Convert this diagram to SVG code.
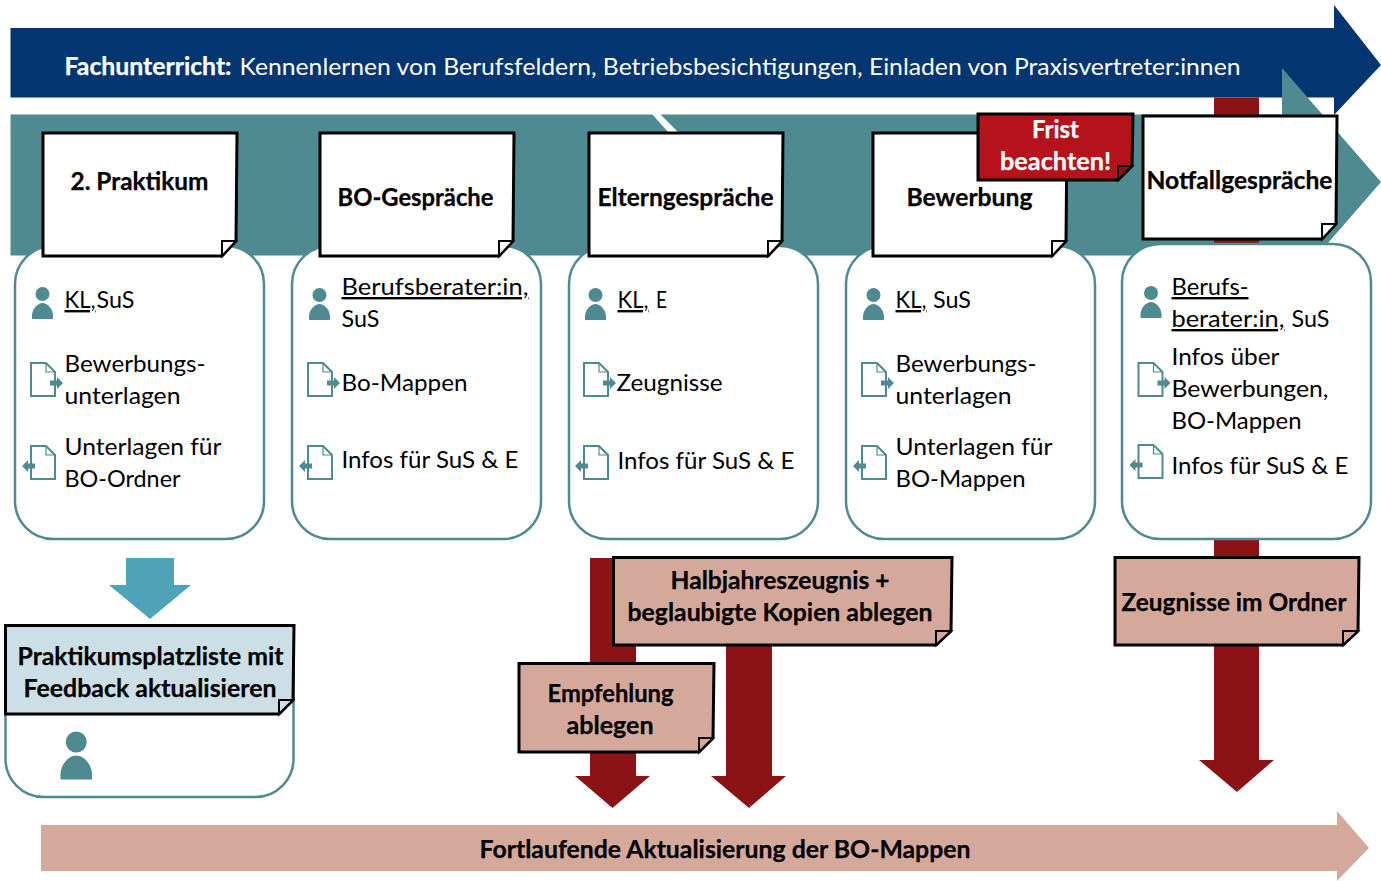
<svg xmlns="http://www.w3.org/2000/svg" width="1381" height="881" viewBox="0 0 1381 881">
<style>
text{font-family:"Lato","Carlito","Open Sans",sans-serif;font-size:24px;fill:#000}
.b{font-weight:700;stroke:#000;stroke-width:.25}
.w{fill:#fff;stroke:#fff}
.r{stroke:none}
.note{stroke:#000;stroke-width:3;stroke-linejoin:miter}
.white{fill:#fff}.pink{fill:#d4a99c}.pale{fill:#ccdfe7}.crim{fill:#b5121b}
.card{fill:#fff;stroke:#4f8a91;stroke-width:2.5}
.u{text-decoration:underline;text-decoration-skip-ink:none}
.red{fill:#8b1315}
</style>
<defs>
<g id="person" fill="#4f8a91"><circle cx="0.500" cy="0" r="7"/><path d="M-10 25V21C-9.500 14-4 9 .5 9S10.500 14 11 21V25Z"/></g>
<g id="docout"><path d="M1 1H16L25 10V34H1Z" fill="#fff" stroke="#4f8a91" stroke-width="2"/><path d="M16 1V10H25" fill="none" stroke="#4f8a91" stroke-width="1.200"/><path d="M20 18.500H27V15L33 21L27 27V23.500H20Z" fill="#4f8a91"/></g>
<g id="docin"><path d="M1 1H16L25 10V34H1Z" fill="#fff" stroke="#4f8a91" stroke-width="2"/><path d="M16 1V10H25" fill="none" stroke="#4f8a91" stroke-width="1.200"/><path d="M5 18.500H-2V15L-8 21L-2 27V23.500H5Z" fill="#4f8a91"/></g>
</defs>

<g id="connectors">
<path id="arrow-fach" d="M10.500 28H1334V5L1381 65L1334 115V97.500H10.500Z" fill="#033671"/>
<path id="arrow-teal" d="M10.500 114.500H1282V68L1381 182L1282 296V255.500H10.500Z" fill="#4f8a91"/>
<path id="gap" d="M652 114H660L678 132H668Z" fill="#fff"/>
<path id="arrow-notfall" class="red" d="M1214 97.500H1259V760H1274L1237 792L1199 760H1214Z"/>
<path id="arrow-emp" class="red" d="M590 558H636V776H650L612.500 808L575 776H590Z"/>
<path id="arrow-halb" class="red" d="M726 640H772V776H786L749 808L711 776H726Z"/>
<path id="arrow-prakt" d="M126 558H174V585H191L150 619L109 585H126Z" fill="#4fa3b8"/>
<path id="arrow-bo" d="M41 825H1337V811L1369 848L1337 881V871H41Z" fill="#d4a99c"/>
</g>

<g id="banner-fach"><text class="b w" x="64.500" y="75" textLength="167" lengthAdjust="spacingAndGlyphs">Fachunterricht:</text><text class="w r" x="239.500" y="75" textLength="1001" lengthAdjust="spacingAndGlyphs">Kennenlernen von Berufsfeldern, Betriebsbesichtigungen, Einladen von Praxisvertreter:innen</text></g>

<g id="card-1">
<rect class="card" x="15" y="246" width="249" height="293" rx="38"/>
<use href="#person" x="42" y="294"/><use href="#docout" x="30" y="362"/><use href="#docin" x="30" y="445"/>
<text class="u" x="64.500" y="308" textLength="31" lengthAdjust="spacingAndGlyphs">KL,</text><text x="96.500" y="308" textLength="38" lengthAdjust="spacingAndGlyphs">SuS</text>
<text x="64.500" y="372" textLength="141" lengthAdjust="spacingAndGlyphs">Bewerbungs-</text>
<text x="64.500" y="404" textLength="116" lengthAdjust="spacingAndGlyphs">unterlagen</text>
<text x="64.500" y="455" textLength="157" lengthAdjust="spacingAndGlyphs">Unterlagen für</text>
<text x="64.500" y="487" textLength="116" lengthAdjust="spacingAndGlyphs">BO-Ordner</text>
</g>
<g id="card-2">
<rect class="card" x="292" y="246" width="249" height="293" rx="38"/>
<use href="#person" x="319" y="295"/><use href="#docout" x="307" y="362"/><use href="#docin" x="307" y="445"/>
<text class="u" x="341.500" y="295" textLength="187" lengthAdjust="spacingAndGlyphs">Berufsberater:in,</text>
<text x="341.500" y="327" textLength="38" lengthAdjust="spacingAndGlyphs">SuS</text>
<text x="341.500" y="391" textLength="126" lengthAdjust="spacingAndGlyphs">Bo-Mappen</text>
<text x="341.500" y="468" textLength="177" lengthAdjust="spacingAndGlyphs">Infos für SuS &amp; E</text>
</g>
<g id="card-3">
<rect class="card" x="569" y="246" width="249" height="293" rx="38"/>
<use href="#person" x="595" y="295"/><use href="#docout" x="583" y="362"/><use href="#docin" x="583" y="445"/>
<text class="u" x="617.500" y="308" textLength="31" lengthAdjust="spacingAndGlyphs">KL,</text><text x="656" y="308" textLength="11" lengthAdjust="spacingAndGlyphs">E</text>
<text x="616.500" y="391" textLength="106" lengthAdjust="spacingAndGlyphs">Zeugnisse</text>
<text x="617.500" y="469" textLength="177" lengthAdjust="spacingAndGlyphs">Infos für SuS &amp; E</text>
</g>
<g id="card-4">
<rect class="card" x="846" y="246" width="249" height="293" rx="38"/>
<use href="#person" x="873" y="295"/><use href="#docout" x="861" y="362"/><use href="#docin" x="861" y="445"/>
<text class="u" x="895.500" y="308" textLength="31" lengthAdjust="spacingAndGlyphs">KL,</text><text x="933" y="308" textLength="38" lengthAdjust="spacingAndGlyphs">SuS</text>
<text x="895.500" y="372" textLength="141" lengthAdjust="spacingAndGlyphs">Bewerbungs-</text>
<text x="895.500" y="404" textLength="116" lengthAdjust="spacingAndGlyphs">unterlagen</text>
<text x="895.500" y="455" textLength="157" lengthAdjust="spacingAndGlyphs">Unterlagen für</text>
<text x="895.500" y="487" textLength="130" lengthAdjust="spacingAndGlyphs">BO-Mappen</text>
</g>
<g id="card-5">
<rect class="card" x="1122" y="244" width="249" height="295" rx="38"/>
<use href="#person" x="1150.500" y="293"/><use href="#docout" x="1137.500" y="362"/><use href="#docin" x="1137.500" y="444"/>
<text class="u" x="1171.500" y="295" textLength="77" lengthAdjust="spacingAndGlyphs">Berufs-</text>
<text class="u" x="1171.500" y="327" textLength="113" lengthAdjust="spacingAndGlyphs">berater:in,</text><text x="1291.500" y="327" textLength="38" lengthAdjust="spacingAndGlyphs">SuS</text>
<text x="1171.500" y="365" textLength="108" lengthAdjust="spacingAndGlyphs">Infos über</text>
<text x="1171.500" y="397" textLength="157" lengthAdjust="spacingAndGlyphs">Bewerbungen,</text>
<text x="1171.500" y="429" textLength="130" lengthAdjust="spacingAndGlyphs">BO-Mappen</text>
<text x="1171.500" y="474" textLength="177" lengthAdjust="spacingAndGlyphs">Infos für SuS &amp; E</text>
</g>

<g id="note-praktikum"><path class="note white" d="M43 133H237L236 241L222 256H43Z"/><path class="note white" style="stroke-width:2" d="M222 256V241H236Z"/><text class="b" x="70.500" y="190" textLength="138" lengthAdjust="spacingAndGlyphs">2. Praktikum</text></g>
<g id="note-bo"><path class="note white" d="M320 133H514L513 241L499 256H320Z"/><path class="note white" style="stroke-width:2" d="M499 256V241H513Z"/><text class="b" x="337.500" y="206" textLength="156" lengthAdjust="spacingAndGlyphs">BO-Gespräche</text></g>
<g id="note-eltern"><path class="note white" d="M589 133H783L782 241L768 256H589Z"/><path class="note white" style="stroke-width:2" d="M768 256V241H782Z"/><text class="b" x="597.500" y="206" textLength="176" lengthAdjust="spacingAndGlyphs">Elterngespräche</text></g>
<g id="note-bewerbung"><path class="note white" d="M873 133H1067L1066 241L1052 256H873Z"/><path class="note white" style="stroke-width:2" d="M1052 256V241H1066Z"/><text class="b" x="906.500" y="206" textLength="126" lengthAdjust="spacingAndGlyphs">Bewerbung</text></g>
<g id="note-frist"><path class="note crim" d="M978 114H1133L1132 166L1118 180H978Z"/><path class="note" style="stroke-width:2" fill="#8b1315" d="M1118 180V166H1132Z"/><text class="b w" x="1032" y="137.500" textLength="47" lengthAdjust="spacingAndGlyphs">Frist</text><text class="b w" x="1000" y="169.500" textLength="111" lengthAdjust="spacingAndGlyphs">beachten!</text></g>
<g id="note-notfall"><path class="note white" d="M1143 116H1337L1336 224L1322 239H1143Z"/><path class="note white" style="stroke-width:2" d="M1322 239V224H1336Z"/><text class="b" x="1146.500" y="189" textLength="186" lengthAdjust="spacingAndGlyphs">Notfallgespräche</text></g>

<g id="card-praktikumsplatz">
<rect class="card" x="5.500" y="630" width="288" height="167" rx="38"/>
<use href="#person" transform="translate(75.500 742) scale(1.5)"/>
</g>
<g id="note-liste"><path class="note pale" d="M5.500 625.500H294L293 700L279 714H5.500Z"/><path class="note pale" style="stroke-width:2" d="M279 714V700H293Z"/><text class="b" x="17.500" y="665" textLength="266" lengthAdjust="spacingAndGlyphs">Praktikumsplatzliste mit</text><text class="b" x="23.500" y="697" textLength="253" lengthAdjust="spacingAndGlyphs">Feedback aktualisieren</text></g>
<g id="note-halb"><path class="note pink" d="M613.500 557.500H952L951 631L936 645H613.500Z"/><path class="note pink" style="stroke-width:2" d="M936 645V631H951Z"/><text class="b" x="670.500" y="589" textLength="219" lengthAdjust="spacingAndGlyphs">Halbjahreszeugnis +</text><text class="b" x="627.500" y="621" textLength="305" lengthAdjust="spacingAndGlyphs">beglaubigte Kopien ablegen</text></g>
<g id="note-emp"><path class="note pink" d="M519 663.500H714L713 738L699 752H519Z"/><path class="note pink" style="stroke-width:2" d="M699 752V738H713Z"/><text class="b" x="547.500" y="702" textLength="126" lengthAdjust="spacingAndGlyphs">Empfehlung</text><text class="b" x="566.500" y="734" textLength="87" lengthAdjust="spacingAndGlyphs">ablegen</text></g>
<g id="note-zeugnis"><path class="note pink" d="M1115 557.500H1359L1358 631L1343 645H1115Z"/><path class="note pink" style="stroke-width:2" d="M1343 645V631H1358Z"/><text class="b" x="1121.500" y="611" textLength="225" lengthAdjust="spacingAndGlyphs">Zeugnisse im Ordner</text></g>
<g id="label-bo"><text class="b" x="479.500" y="858" textLength="491" lengthAdjust="spacingAndGlyphs">Fortlaufende Aktualisierung der BO-Mappen</text></g>
</svg>
